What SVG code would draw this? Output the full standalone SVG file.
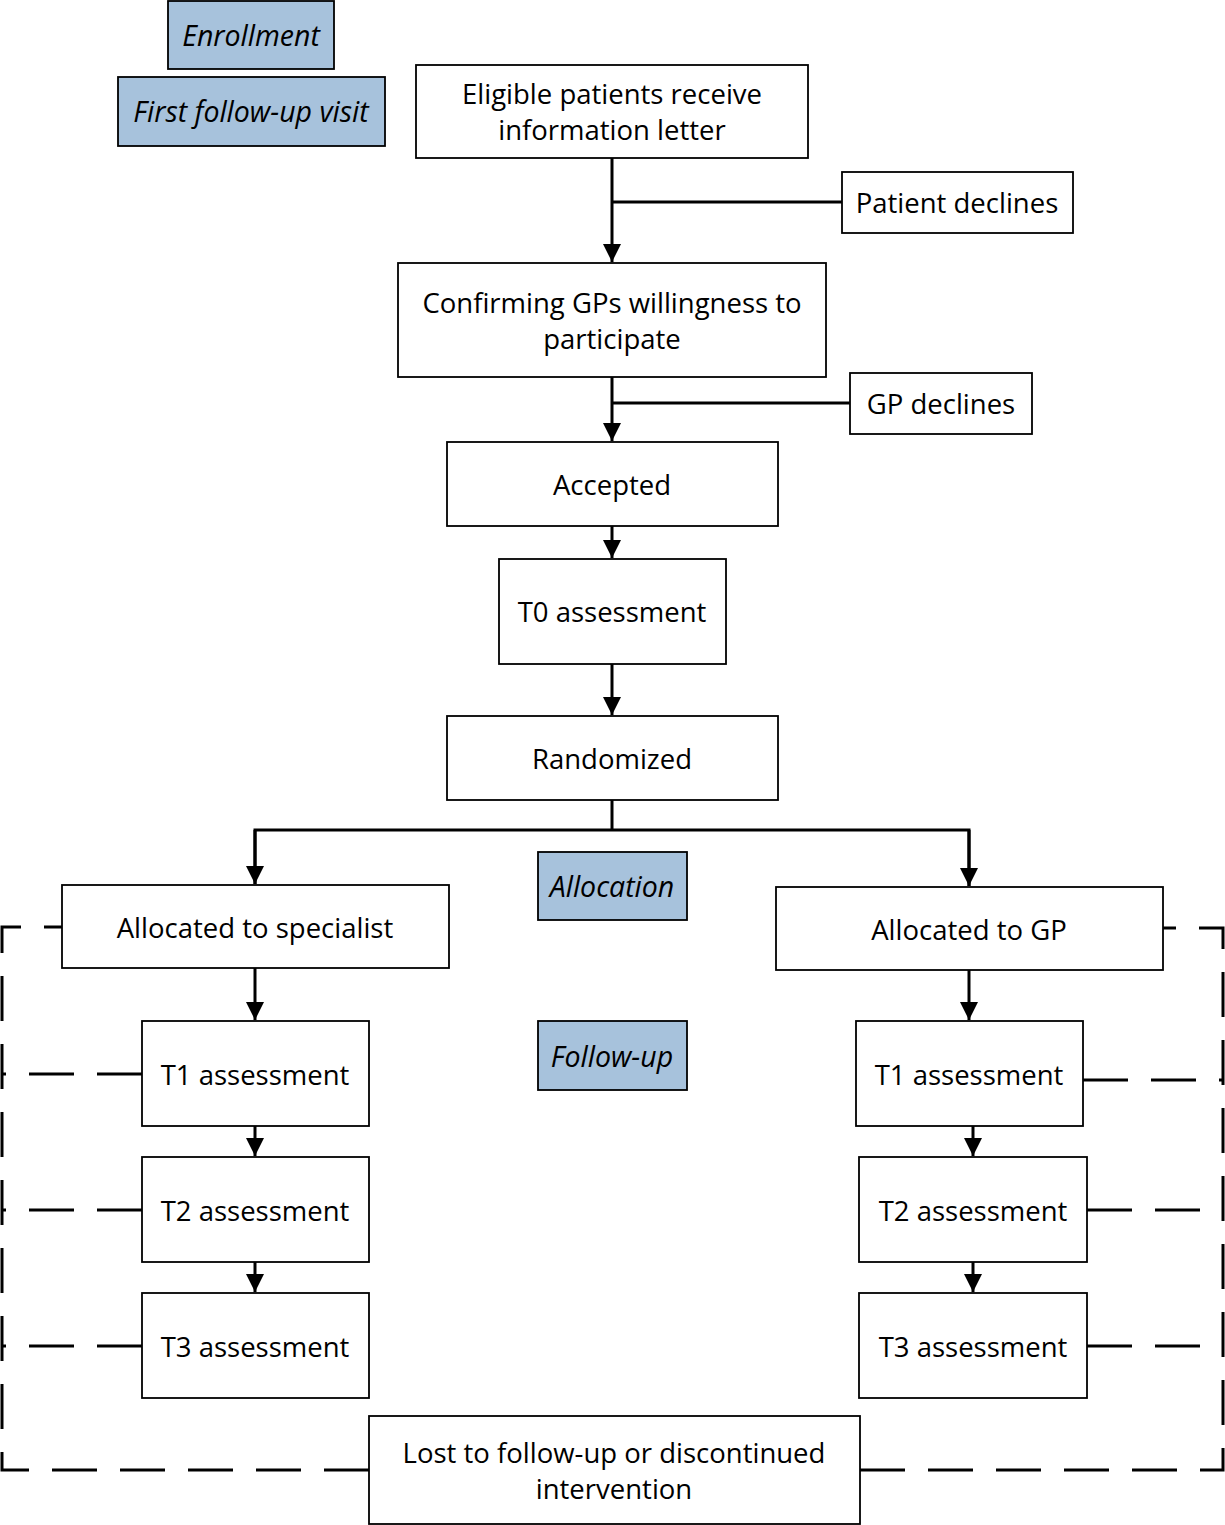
<svg xmlns="http://www.w3.org/2000/svg" width="1225" height="1525" viewBox="0 0 1225 1525">
<style>
.box{fill:#fff;stroke:#000;stroke-width:1.8}
.lbl{fill:#a7c2dc;stroke:#000;stroke-width:1.8}
.t{font-family:"Open Sans","Noto Sans","Liberation Sans",sans-serif;font-size:27.5px;fill:#000;text-anchor:middle;dominant-baseline:central}
.i{font-style:italic;font-size:28.5px}
.c{fill:none;stroke:#000;stroke-width:3}
.d{fill:none;stroke:#000;stroke-width:3;stroke-dasharray:45 23}
</style>
<defs>
<marker id="ah" viewBox="0 0 18 18" refX="18" refY="9" markerWidth="18" markerHeight="18" markerUnits="userSpaceOnUse" orient="auto">
<path d="M0,0 L18,9 L0,18 Z" fill="#000"/>
</marker>
</defs>
<rect width="1225" height="1525" fill="#fff"/>
<g id="connectors">
<path class="c" d="M612,158 V262" marker-end="url(#ah)"/>
<path class="c" d="M612,202 H842"/>
<path class="c" d="M612,377 V441" marker-end="url(#ah)"/>
<path class="c" d="M612,403 H850"/>
<path class="c" d="M612,526 V558" marker-end="url(#ah)"/>
<path class="c" d="M612,664 V715" marker-end="url(#ah)"/>
<path class="c" d="M612,800 V830"/>
<path class="c" d="M255,884 V830 H969 V886"/>
<path class="c" d="M255,830 V884" marker-end="url(#ah)"/>
<path class="c" d="M969,830 V886" marker-end="url(#ah)"/>
<path class="c" d="M255,968 V1020" marker-end="url(#ah)"/>
<path class="c" d="M255,1126 V1156" marker-end="url(#ah)"/>
<path class="c" d="M255,1262 V1292" marker-end="url(#ah)"/>
<path class="c" d="M969,970 V1020" marker-end="url(#ah)"/>
<path class="c" d="M973,1126 V1156" marker-end="url(#ah)"/>
<path class="c" d="M973,1262 V1292" marker-end="url(#ah)"/>
<path class="d" d="M369,1470 H2 V927 H62"/>
<path class="d" d="M860,1470 H1223 V928 H1163"/>
<path class="d" d="M142,1074 H2"/>
<path class="d" d="M142,1210 H2"/>
<path class="d" d="M142,1346 H2"/>
<path class="d" d="M1083,1080 H1223"/>
<path class="d" d="M1087,1210 H1223"/>
<path class="d" d="M1087,1346 H1223"/>
</g>
<g id="enrollment"><rect class="lbl" x="168" y="1" width="166" height="68"/><text class="t i" x="251" y="35">Enrollment</text></g>
<g id="first-follow-up"><rect class="lbl" x="118" y="77" width="267" height="69"/><text class="t i" x="251" y="111">First follow-up visit</text></g>
<g id="eligible"><rect class="box" x="416" y="65" width="392" height="93"/><text class="t" x="612" y="93">Eligible patients receive</text><text class="t" x="612" y="129">information letter</text></g>
<g id="patient-declines"><rect class="box" x="842" y="172" width="231" height="61"/><text class="t" x="957" y="202">Patient declines</text></g>
<g id="confirming"><rect class="box" x="398" y="263" width="428" height="114"/><text class="t" x="612" y="302">Confirming GPs willingness to</text><text class="t" x="612" y="338">participate</text></g>
<g id="gp-declines"><rect class="box" x="850" y="373" width="182" height="61"/><text class="t" x="941" y="403">GP declines</text></g>
<g id="accepted"><rect class="box" x="447" y="442" width="331" height="84"/><text class="t" x="612" y="484">Accepted</text></g>
<g id="t0"><rect class="box" x="499" y="559" width="227" height="105"/><text class="t" x="612" y="611">T0 assessment</text></g>
<g id="randomized"><rect class="box" x="447" y="716" width="331" height="84"/><text class="t" x="612" y="758">Randomized</text></g>
<g id="allocation"><rect class="lbl" x="538" y="852" width="149" height="68"/><text class="t i" x="612" y="886">Allocation</text></g>
<g id="alloc-specialist"><rect class="box" x="62" y="885" width="387" height="83"/><text class="t" x="255" y="927">Allocated to specialist</text></g>
<g id="alloc-gp"><rect class="box" x="776" y="887" width="387" height="83"/><text class="t" x="969" y="929">Allocated to GP</text></g>
<g id="follow-up"><rect class="lbl" x="538" y="1021" width="149" height="69"/><text class="t i" x="612" y="1056">Follow-up</text></g>
<g id="t1-left"><rect class="box" x="142" y="1021" width="227" height="105"/><text class="t" x="255" y="1074">T1 assessment</text></g>
<g id="t2-left"><rect class="box" x="142" y="1157" width="227" height="105"/><text class="t" x="255" y="1210">T2 assessment</text></g>
<g id="t3-left"><rect class="box" x="142" y="1293" width="227" height="105"/><text class="t" x="255" y="1346">T3 assessment</text></g>
<g id="t1-right"><rect class="box" x="856" y="1021" width="227" height="105"/><text class="t" x="969" y="1074">T1 assessment</text></g>
<g id="t2-right"><rect class="box" x="859" y="1157" width="228" height="105"/><text class="t" x="973" y="1210">T2 assessment</text></g>
<g id="t3-right"><rect class="box" x="859" y="1293" width="228" height="105"/><text class="t" x="973" y="1346">T3 assessment</text></g>
<g id="lost"><rect class="box" x="369" y="1416" width="491" height="108"/><text class="t" x="614" y="1452">Lost to follow-up or discontinued</text><text class="t" x="614" y="1488">intervention</text></g>
</svg>
